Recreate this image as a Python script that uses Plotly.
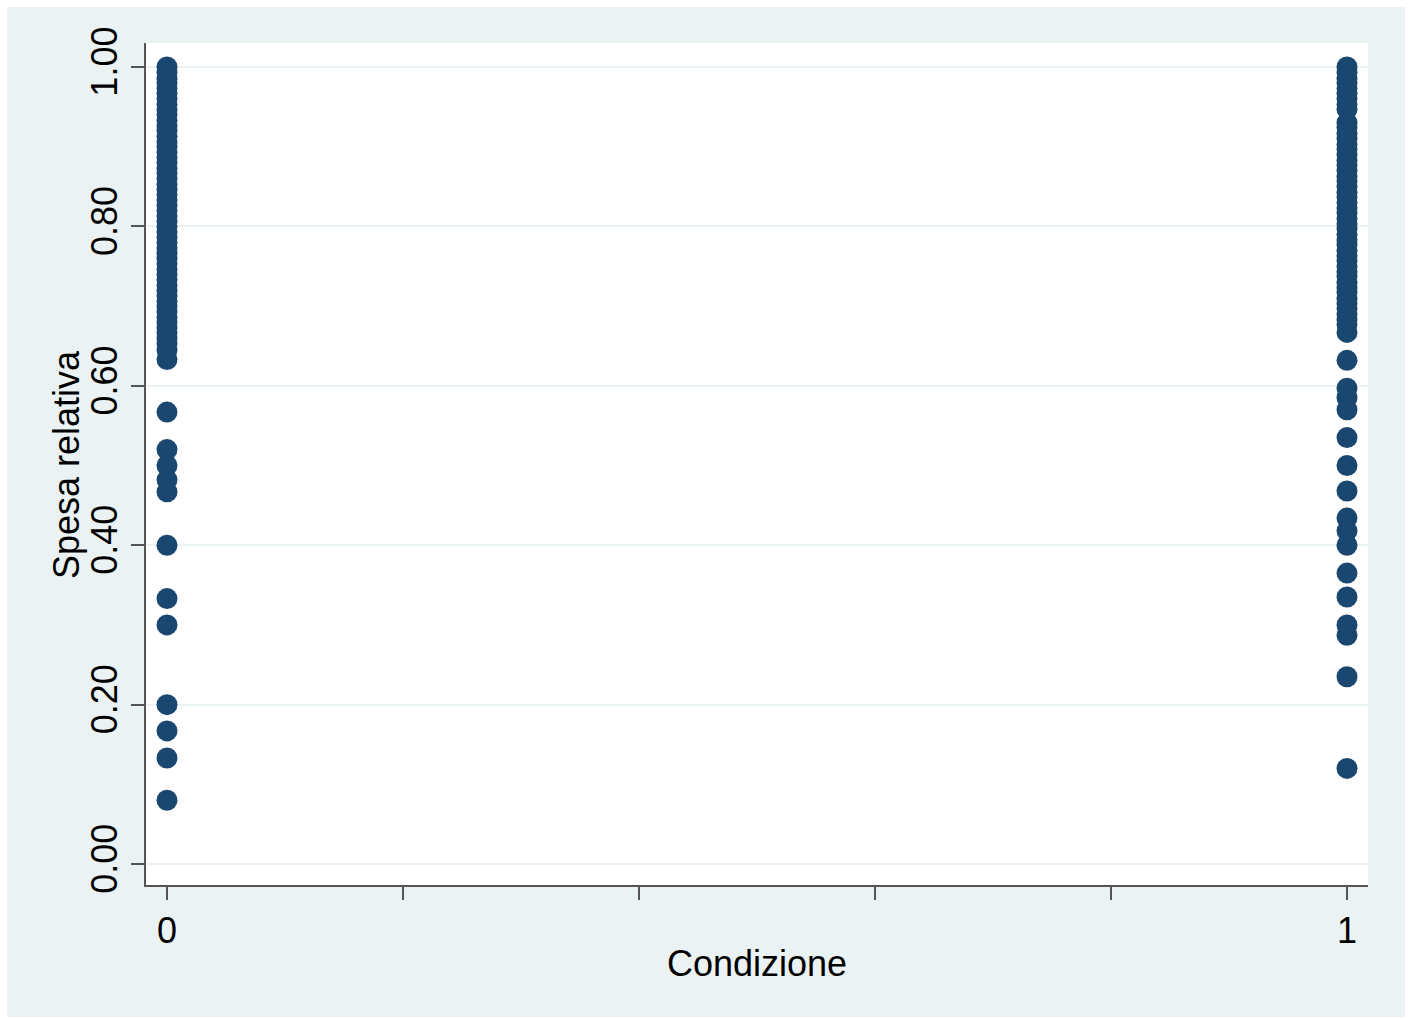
import plotly.graph_objects as go

# Condizione 0 values
cond0_values = [1.0, 0.993, 0.986, 0.98, 0.973, 0.967, 0.96, 0.953, 0.946, 0.94, 0.933,
                0.926, 0.92, 0.913, 0.906, 0.9, 0.893, 0.886, 0.88, 0.873, 0.867, 0.86,
                0.853, 0.846, 0.84, 0.833, 0.826, 0.82, 0.813, 0.806, 0.8, 0.793, 0.786,
                0.78, 0.773, 0.767, 0.76, 0.753, 0.746, 0.74, 0.733, 0.726, 0.72, 0.713,
                0.706, 0.7, 0.693, 0.686, 0.68, 0.673, 0.667, 0.66, 0.653, 0.645, 0.633,
                0.567, 0.52, 0.50, 0.482, 0.467, 0.40, 0.333, 0.30, 0.20, 0.167, 0.133, 0.08]
# Condizione 1 values
cond1_values = [1.0, 0.993, 0.986, 0.98, 0.973, 0.967, 0.96, 0.953, 0.947, 0.93, 0.924,
                0.917, 0.91, 0.903, 0.897, 0.89, 0.883, 0.877, 0.87, 0.863, 0.857, 0.85,
                0.843, 0.837, 0.83, 0.823, 0.817, 0.81, 0.803, 0.797, 0.79, 0.783, 0.777,
                0.77, 0.763, 0.757, 0.75, 0.743, 0.737, 0.73, 0.723, 0.717, 0.71, 0.703,
                0.697, 0.69, 0.683, 0.677, 0.667, 0.632, 0.597, 0.585, 0.57, 0.535, 0.50,
                0.468, 0.434, 0.418, 0.40, 0.365, 0.335, 0.30, 0.287, 0.235, 0.12]

x_ticks = [0, 0.2, 0.4, 0.6, 0.8, 1.0]
x_ticktext = ["0", "", "", "", "", "1"]
y_ticks = [0, 0.2, 0.4, 0.6, 0.8, 1.0]
y_ticktext = ["0.00", "0.20", "0.40", "0.60", "0.80", "1.00"]

x_title = "Condizione"
y_title = "Spesa relativa"

xs = [0] * len(cond0_values) + [1] * len(cond1_values)
ys = cond0_values + cond1_values

NAVY = "#1A476F"
BG = "#EAF2F3"
FONT = "Liberation Sans, Arial, sans-serif"
FS = 36

fig = go.Figure()
fig.add_trace(go.Scatter(x=xs, y=ys, mode="markers",
                         marker=dict(color=NAVY, size=21, line=dict(width=0)),
                         showlegend=False, hoverinfo="skip"))

W, H = 1413, 1019
L, R, T, B = 146, 45, 43, 134
pw, ph = W - L - R, H - T - B

def px_x(p):
    return (p - L) / pw

def px_y(p):
    return (H - B - p) / ph

fig.update_layout(
    width=W, height=H,
    margin=dict(l=L, r=R, t=T, b=B),
    paper_bgcolor="white", plot_bgcolor="white",
    font=dict(family=FONT, size=FS, color="black"),
    shapes=[
        dict(type="rect", xref="paper", yref="paper", layer="below",
             x0=px_x(7), x1=px_x(1405), y0=px_y(1017), y1=px_y(7),
             fillcolor=BG, line=dict(width=0)),
        dict(type="rect", xref="paper", yref="paper", layer="below",
             x0=0, x1=1, y0=0, y1=1, fillcolor="white", line=dict(width=0)),
    ],
    annotations=[
        dict(text=x_title, xref="paper", yref="paper", x=0.5, y=px_y(963),
             xanchor="center", yanchor="middle", showarrow=False,
             font=dict(size=FS, family=FONT, color="black")),
        dict(text=y_title, xref="paper", yref="paper", x=px_x(66), y=px_y(465),
             xanchor="center", yanchor="middle", showarrow=False, textangle=-90,
             font=dict(size=FS, family=FONT, color="black")),
    ],
)

fig.update_xaxes(range=[-0.0178, 1.0178], tickvals=x_ticks, ticktext=x_ticktext,
                 showgrid=False, zeroline=False, showline=True, linecolor="#555555",
                 linewidth=2, ticks="outside", ticklen=13, tickwidth=2,
                 tickcolor="#555555", tickfont=dict(size=FS, color="black"))
fig.update_yaxes(range=[-0.0263, 1.0301], tickvals=y_ticks, ticktext=y_ticktext,
                 showgrid=True, gridcolor=BG, gridwidth=2, zeroline=False,
                 showline=True, linecolor="#555555", linewidth=2, ticks="outside",
                 ticklen=13, tickwidth=2, tickcolor="#555555", tickangle=-90,
                 tickfont=dict(size=FS, color="black"))

fig.write_html("out.html")
